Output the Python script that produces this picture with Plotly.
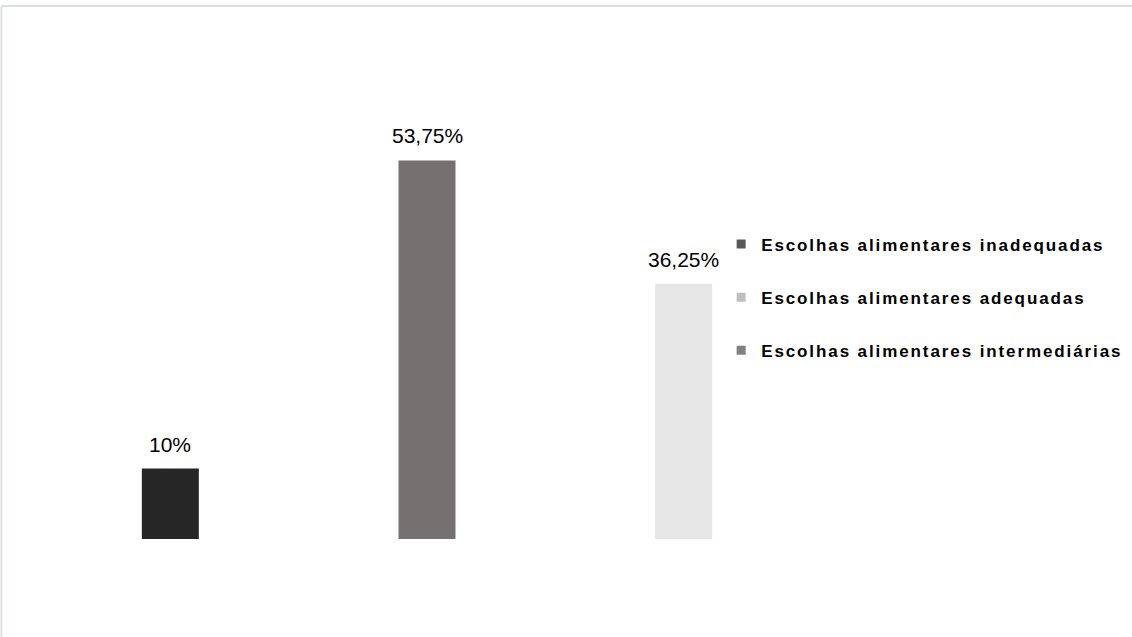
import plotly.graph_objects as go

categories = ["Escolhas alimentares inadequadas", "Escolhas alimentares intermediárias", "Escolhas alimentares adequadas"]
values = [10.0, 53.75, 36.25]
labels = ["10%", "53,75%", "36,25%"]
bar_colors = ["#262626", "#767171", "#e7e6e6"]

legend_names = ["Escolhas alimentares inadequadas", "Escolhas alimentares adequadas", "Escolhas alimentares intermediárias"]
legend_colors = ["#595959", "#bfbfbf", "#808080"]

fig = go.Figure()
fig.add_trace(go.Bar(
    x=categories, y=values,
    marker=dict(color=bar_colors, line=dict(width=0)),
    showlegend=False, hoverinfo="skip",
))
for i, (n, c) in enumerate(zip(legend_names, legend_colors)):
    fig.add_trace(go.Scatter(
        x=[None], y=[None], mode="markers",
        name=f'<span style="letter-spacing:1.9px">{n}</span>',
        marker=dict(symbol="square", size=9, color=c),
        legendgroup=f"g{i}", showlegend=True,
    ))

for cat, v, lab in zip(categories, values, labels):
    fig.add_annotation(x=cat, y=v, text=lab, showarrow=False, yanchor="bottom",
                       yshift=11, font=dict(family="Liberation Sans", size=21, color="#000000"))

fig.update_layout(
    width=1132, height=637,
    margin=dict(l=42, r=320, t=20, b=98, autoexpand=False),
    paper_bgcolor="white", plot_bgcolor="white",
    bargap=0.778,
    xaxis=dict(visible=False, type="category", categoryorder="array", categoryarray=categories, range=[-0.5, 2.5]),
    yaxis=dict(visible=False, range=[0, 73.7]),
    legend=dict(x=0.882, y=0.602, xanchor="left", yanchor="top",
                font=dict(family="Liberation Sans", size=17, color="#000000", weight="bold"),
                traceorder="grouped", tracegroupgap=28, itemwidth=30,
                bgcolor="rgba(0,0,0,0)"),
    shapes=[
        dict(type="line", xref="paper", yref="paper", x0=-0.0526, x1=1.42, y0=1.027, y1=1.027,
             line=dict(color="#dcdfe8", width=2)),
        dict(type="line", xref="paper", yref="paper", x0=-0.0526, x1=-0.0526, y0=1.027, y1=-0.19,
             line=dict(color="#dcdfe8", width=2)),
    ],
)
fig.write_html("out.html", config={"displayModeBar": False},
               post_script="document.body.style.margin='0';")
